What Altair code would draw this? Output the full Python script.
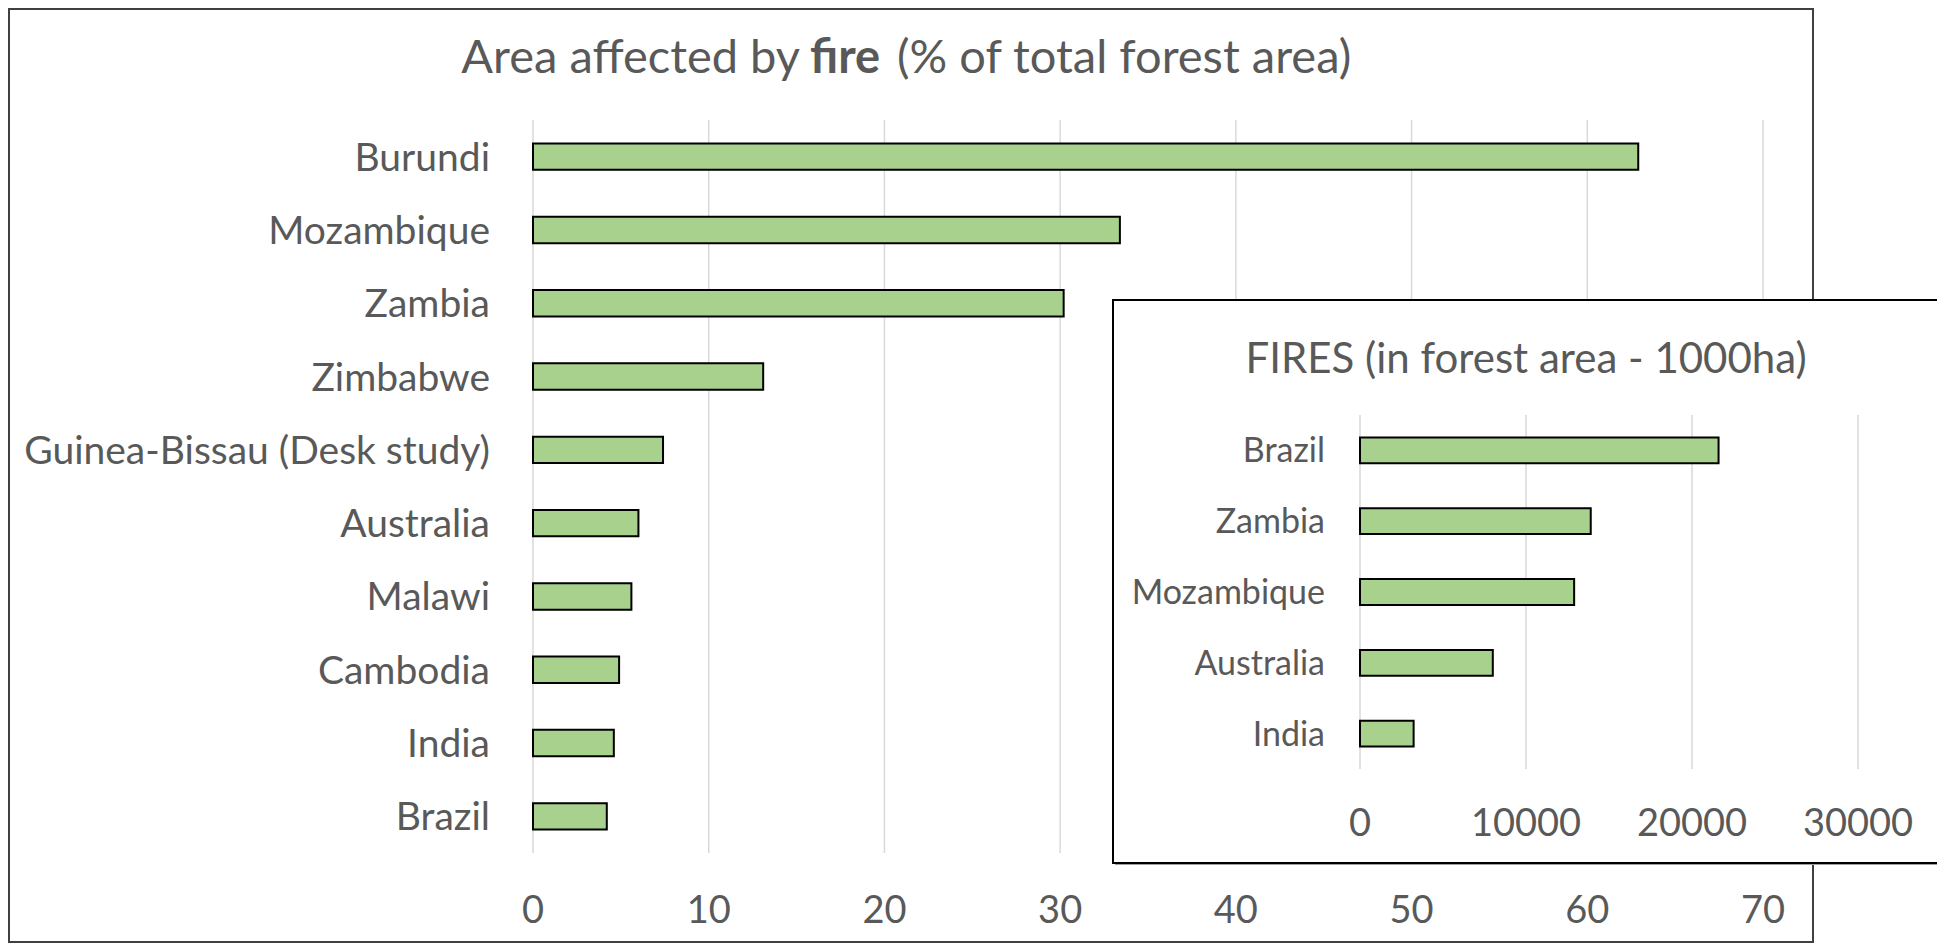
import altair as alt
import pandas as pd

# ---------------- data ----------------
countries = ["Burundi", "Mozambique", "Zambia", "Zimbabwe", "Guinea-Bissau (Desk study)",
             "Australia", "Malawi", "Cambodia", "India", "Brazil"]
pct_burnt = [62.9, 33.4, 30.2, 13.1, 7.4, 6.0, 5.6, 4.9, 4.6, 4.2]
main_ticks = [0, 10, 20, 30, 40, 50, 60, 70]

inset_countries = ["Brazil", "Zambia", "Mozambique", "Australia", "India"]
inset_fires = [21600, 13900, 12900, 8000, 3230]
inset_ticks = [0, 10000, 20000, 30000]

title_parts = ["Area affected by", "fire", "(% of total forest area)"]
inset_title = "FIRES (in forest area - 1000ha)"

# ---------------- styling ----------------
FONT = "Lato"
TXT = "#595959"
GRID = "#D9D9D9"
FILL = "#A9D18E"
W, H = 1929, 935

main_df = pd.DataFrame({"country": countries, "value": pct_burnt})
main_tick_df = pd.DataFrame({"t": main_ticks, "label": [str(t) for t in main_ticks]})
inset_df = pd.DataFrame({"country": inset_countries, "value": inset_fires})
inset_tick_df = pd.DataFrame({"t": inset_ticks, "label": [str(t) for t in inset_ticks]})
one = pd.DataFrame({"k": [0]})

xm = alt.Scale(domain=[0, 70], range=[525, 1755], nice=False, zero=True)
ym = alt.Scale(domain=countries, range=[112, 845], paddingInner=0.64, paddingOuter=0.32)
xi = alt.Scale(domain=[0, 30000], range=[1352, 1850], nice=False, zero=True)
yi = alt.Scale(domain=inset_countries, range=[407, 761], paddingInner=0.635, paddingOuter=0.3175)

# main frame
frame = alt.Chart(one).mark_rect(fill="white", stroke="#404040", strokeWidth=2).encode(
    x=alt.value(1), x2=alt.value(1805), y=alt.value(1), y2=alt.value(934))

main_grid = alt.Chart(main_tick_df).mark_rule(color=GRID, strokeWidth=1.5).encode(
    x=alt.X("t:Q", scale=xm, axis=None), y=alt.value(112), y2=alt.value(845))

main_bars = alt.Chart(main_df).mark_bar(fill=FILL, stroke="black", strokeWidth=2).encode(
    x=alt.X("value:Q", scale=xm, axis=None),
    y=alt.Y("country:N", scale=ym, axis=None, sort=countries))

main_cat = alt.Chart(main_df).mark_text(font=FONT, fontSize=39, color=TXT, align="right",
                                        baseline="alphabetic", dy=14).encode(
    x=alt.value(482), y=alt.Y("country:N", scale=ym, axis=None, sort=countries), text="country:N")

main_tick_lbl = alt.Chart(main_tick_df).mark_text(font=FONT, fontSize=38, color=TXT, align="center",
                                                  baseline="alphabetic").encode(
    x=alt.X("t:Q", scale=xm, axis=None), y=alt.value(915), text="label:N")

TS = 47
t1 = alt.Chart(one).mark_text(text=title_parts[0], font=FONT, fontSize=TS, color=TXT, align="right",
                              baseline="alphabetic").encode(x=alt.value(792), y=alt.value(65))
t2 = alt.Chart(one).mark_text(text=title_parts[1], font=FONT, fontSize=TS, fontWeight="bold", color=TXT,
                              align="left", baseline="alphabetic").encode(x=alt.value(802), y=alt.value(65))
t3 = alt.Chart(one).mark_text(text=title_parts[2], font=FONT, fontSize=TS, color=TXT, align="left",
                              baseline="alphabetic").encode(x=alt.value(889), y=alt.value(65))

# inset
inset_shadow = alt.Chart(one).mark_rect(fill="#A0A0A0").encode(
    x=alt.value(1107), x2=alt.value(1934), y=alt.value(294), y2=alt.value(857))
inset_box = alt.Chart(one).mark_rect(fill="white", stroke="black", strokeWidth=2).encode(
    x=alt.value(1105), x2=alt.value(1932), y=alt.value(292), y2=alt.value(855))

inset_grid = alt.Chart(inset_tick_df).mark_rule(color=GRID, strokeWidth=1.5).encode(
    x=alt.X("t:Q", scale=xi, axis=None), y=alt.value(407), y2=alt.value(761))

inset_bars = alt.Chart(inset_df).mark_bar(fill=FILL, stroke="black", strokeWidth=2).encode(
    x=alt.X("value:Q", scale=xi, axis=None),
    y=alt.Y("country:N", scale=yi, axis=None, sort=inset_countries))

inset_cat = alt.Chart(inset_df).mark_text(font=FONT, fontSize=34, color=TXT, align="right",
                                          baseline="alphabetic", dy=12).encode(
    x=alt.value(1317), y=alt.Y("country:N", scale=yi, axis=None, sort=inset_countries), text="country:N")

inset_tick_lbl = alt.Chart(inset_tick_df).mark_text(font=FONT, fontSize=38, color=TXT, align="center",
                                                    baseline="alphabetic").encode(
    x=alt.X("t:Q", scale=xi, axis=None), y=alt.value(828), text="label:N")

inset_t = alt.Chart(one).mark_text(text=inset_title, font=FONT, fontSize=42, color=TXT, align="center",
                                   baseline="alphabetic").encode(x=alt.value(1518), y=alt.value(365))

chart = alt.layer(
    frame, main_grid, main_bars, main_cat, main_tick_lbl, t1, t2, t3,
    inset_shadow, inset_box, inset_grid, inset_bars, inset_cat, inset_tick_lbl, inset_t
).resolve_scale(x="independent", y="independent").properties(
    width=W, height=H, padding=0, autosize="none", background="white"
).configure_view(stroke=None)

chart.save("out.html", embed_options={"renderer": "svg", "actions": False})
